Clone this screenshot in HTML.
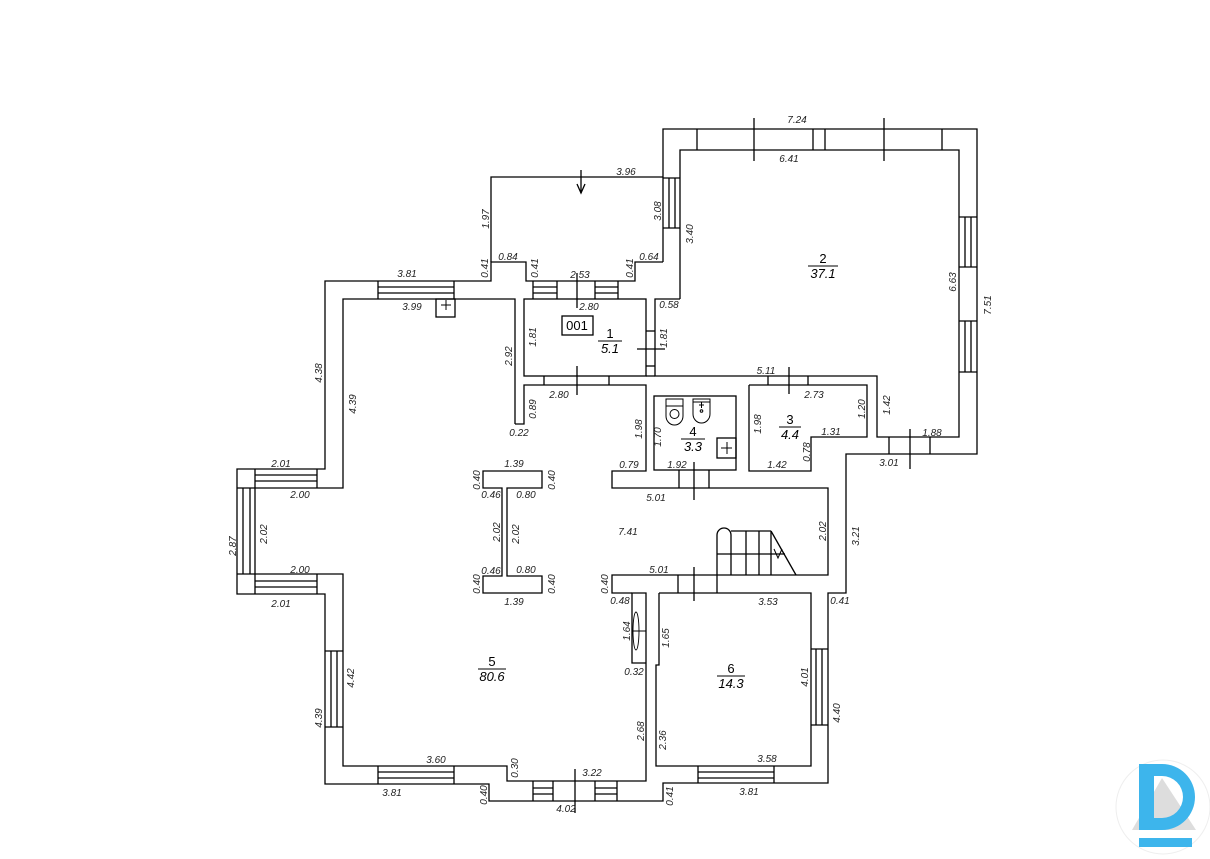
<!DOCTYPE html>
<html><head><meta charset="utf-8"><style>
html,body{margin:0;padding:0;background:#fff;}
svg{display:block}
text{font-family:"Liberation Sans",sans-serif;font-style:italic;font-size:10px;fill:#222;}
.r{font-style:normal;font-size:13px;fill:#000}
.ra{font-size:13px;fill:#000}
</style></head><body>
<svg width="1210" height="859" viewBox="0 0 1210 859" xmlns="http://www.w3.org/2000/svg">
<g fill="none" stroke="#000" stroke-width="1.3">
<polyline points="663,262 663,129 977,129 977,454 846,454 846,593 828,593 828,783 663,783 663,801 489,801 489,784 325,784 325,594 237,594 237,469 325,469 325,281 491,281 491,262 526,262 526,281 635,281 635,262 663,262"/>
<polyline points="491,262 491,177 663,177"/>
<line x1="663" y1="178" x2="680" y2="178"/>
<polyline points="680,299 680,150 959,150 959,437 877,437 877,376 655,376 655,299 680,299"/>
<rect x="524" y="299" width="122" height="77"/>
<polyline points="515,424 515,299 343,299 343,488 255,488 255,574 343,574 343,766 507,766 507,781 646,781 646,593 632,593 632,663 646,663"/>
<polyline points="632,593 612,593 612,575 828,575 828,488 612,488 612,471 646,471 646,385 524,385 524,424 515,424"/>
<polyline points="659,593 811,593 811,766 656,766 656,665 659,665 659,593"/>
<rect x="654" y="396" width="82" height="74"/>
<polyline points="749,385 867,385 867,437 811,437 811,471 749,471 749,385"/>
<polygon points="483,471 542,471 542,488 507,488 507,576 542,576 542,593 483,593 483,576 502,576 502,488 483,488"/>
<line x1="697" y1="129" x2="697" y2="150"/><line x1="942" y1="129" x2="942" y2="150"/>
<line x1="813" y1="129" x2="813" y2="150"/><line x1="825" y1="129" x2="825" y2="150"/>
<line x1="754" y1="118" x2="754" y2="161"/><line x1="884" y1="118" x2="884" y2="161"/>
<line x1="959" y1="217" x2="977" y2="217"/><line x1="959" y1="267" x2="977" y2="267"/>
<line x1="965" y1="217" x2="965" y2="267"/><line x1="971" y1="217" x2="971" y2="267"/>
<line x1="959" y1="321" x2="977" y2="321"/><line x1="959" y1="372" x2="977" y2="372"/>
<line x1="965" y1="321" x2="965" y2="372"/><line x1="971" y1="321" x2="971" y2="372"/>
<line x1="663" y1="228" x2="680" y2="228"/><line x1="669" y1="178" x2="669" y2="228"/><line x1="675" y1="178" x2="675" y2="228"/>
<line x1="581" y1="170" x2="581" y2="193"/><polyline points="577,184 581,193 585,184"/>
<line x1="378" y1="281" x2="378" y2="299"/><line x1="454" y1="281" x2="454" y2="299"/>
<line x1="378" y1="287" x2="454" y2="287"/><line x1="378" y1="293" x2="454" y2="293"/>
<line x1="533" y1="281" x2="533" y2="299"/><line x1="557" y1="281" x2="557" y2="299"/>
<line x1="533" y1="287" x2="557" y2="287"/><line x1="533" y1="293" x2="557" y2="293"/>
<line x1="595" y1="281" x2="595" y2="299"/><line x1="618" y1="281" x2="618" y2="299"/>
<line x1="595" y1="287" x2="618" y2="287"/><line x1="595" y1="293" x2="618" y2="293"/>
<line x1="577" y1="273" x2="577" y2="308"/>
<line x1="544" y1="376" x2="544" y2="385"/><line x1="609" y1="376" x2="609" y2="385"/>
<line x1="577" y1="366" x2="577" y2="395"/>
<line x1="646" y1="331" x2="655" y2="331"/><line x1="646" y1="366" x2="655" y2="366"/>
<line x1="637" y1="349" x2="665" y2="349"/>
<line x1="646" y1="376" x2="655" y2="376"/>
<line x1="768" y1="376" x2="768" y2="385"/><line x1="808" y1="376" x2="808" y2="385"/>
<line x1="789" y1="367" x2="789" y2="394"/>
<line x1="889" y1="437" x2="889" y2="454"/><line x1="930" y1="437" x2="930" y2="454"/>
<line x1="910" y1="429" x2="910" y2="469"/>
<line x1="679" y1="470" x2="679" y2="488"/><line x1="709" y1="470" x2="709" y2="488"/>
<line x1="694" y1="462" x2="694" y2="500"/>
<line x1="237" y1="488" x2="255" y2="488"/><line x1="255" y1="469" x2="255" y2="488"/>
<line x1="237" y1="574" x2="255" y2="574"/><line x1="255" y1="574" x2="255" y2="594"/>
<line x1="243" y1="488" x2="243" y2="574"/><line x1="250" y1="488" x2="250" y2="574"/>
<line x1="317" y1="469" x2="317" y2="488"/><line x1="255" y1="475" x2="317" y2="475"/><line x1="255" y1="481" x2="317" y2="481"/>
<line x1="317" y1="574" x2="317" y2="594"/><line x1="255" y1="581" x2="317" y2="581"/><line x1="255" y1="587" x2="317" y2="587"/>
<line x1="325" y1="651" x2="343" y2="651"/><line x1="325" y1="727" x2="343" y2="727"/>
<line x1="331" y1="651" x2="331" y2="727"/><line x1="337" y1="651" x2="337" y2="727"/>
<line x1="378" y1="766" x2="378" y2="784"/><line x1="454" y1="766" x2="454" y2="784"/>
<line x1="378" y1="772" x2="454" y2="772"/><line x1="378" y1="778" x2="454" y2="778"/>
<line x1="533" y1="781" x2="533" y2="801"/><line x1="553" y1="781" x2="553" y2="801"/>
<line x1="533" y1="788" x2="553" y2="788"/><line x1="533" y1="794" x2="553" y2="794"/>
<line x1="595" y1="781" x2="595" y2="801"/><line x1="617" y1="781" x2="617" y2="801"/>
<line x1="595" y1="788" x2="617" y2="788"/><line x1="595" y1="794" x2="617" y2="794"/>
<line x1="575" y1="769" x2="575" y2="813"/>
<line x1="698" y1="766" x2="698" y2="783"/><line x1="774" y1="766" x2="774" y2="783"/>
<line x1="698" y1="772" x2="774" y2="772"/><line x1="698" y1="778" x2="774" y2="778"/>
<line x1="811" y1="649" x2="828" y2="649"/><line x1="811" y1="725" x2="828" y2="725"/>
<line x1="816" y1="649" x2="816" y2="725"/><line x1="822" y1="649" x2="822" y2="725"/>
<line x1="678" y1="575" x2="678" y2="593"/><line x1="717" y1="575" x2="717" y2="593"/>
<line x1="694" y1="567" x2="694" y2="601"/>
<path d="M717,575 L717,535 A7,7 0 0 1 731,535 L731,575"/>
<line x1="731" y1="531" x2="771" y2="531"/>
<line x1="746" y1="531" x2="746" y2="575"/><line x1="759" y1="531" x2="759" y2="575"/><line x1="771" y1="531" x2="771" y2="575"/>
<line x1="717" y1="554" x2="785" y2="554"/>
<line x1="771" y1="531" x2="796" y2="575"/>
<polyline points="774,549 778,558 782,549" stroke-width="1"/>
<ellipse cx="636" cy="631" rx="3" ry="19" stroke-width="0.9"/>
<line x1="632" y1="631" x2="646" y2="631" stroke-width="1"/>
<rect x="436" y="299" width="19" height="18"/>
<line x1="441" y1="305" x2="451" y2="305" stroke-width="1"/><line x1="446" y1="300" x2="446" y2="310" stroke-width="1"/>
<rect x="562" y="316" width="31" height="19"/>
<rect x="666" y="399" width="17" height="7" stroke-width="1"/>
<path d="M666,406 L666,416 A8.5,9 0 0 0 683,416 L683,406" stroke-width="1"/>
<circle cx="674.5" cy="414" r="4.5" stroke-width="1"/>
<rect x="693" y="399" width="17" height="3" stroke-width="1"/>
<path d="M693,402 L693,414 A8.5,9 0 0 0 710,414 L710,402" stroke-width="1"/>
<circle cx="701.5" cy="411" r="1.3" stroke-width="1"/>
<line x1="699" y1="405" x2="704" y2="405" stroke-width="1"/><line x1="701.5" y1="402" x2="701.5" y2="408" stroke-width="1"/>
<rect x="717" y="438" width="19" height="20"/>
<line x1="721" y1="448" x2="732" y2="448" stroke-width="1"/><line x1="727" y1="442" x2="727" y2="454" stroke-width="1"/>
<line x1="808" y1="266" x2="838" y2="266" stroke-width="1"/>
<line x1="598" y1="341" x2="622" y2="341" stroke-width="1"/>
<line x1="681" y1="439" x2="705" y2="439" stroke-width="1"/>
<line x1="779" y1="427" x2="801" y2="427" stroke-width="1"/>
<line x1="478" y1="669" x2="506" y2="669" stroke-width="1"/>
<line x1="717" y1="676" x2="745" y2="676" stroke-width="1"/>
</g>
<g text-anchor="middle">
<text class="r" x="823" y="263">2</text><text class="ra" x="823" y="278">37.1</text>
<text class="r" x="610" y="338">1</text><text class="ra" x="610" y="353">5.1</text>
<text class="r" x="577" y="330" style="font-style:normal;font-size:13px">001</text>
<text class="r" x="693" y="436">4</text><text class="ra" x="693" y="451">3.3</text>
<text class="r" x="790" y="424">3</text><text class="ra" x="790" y="439">4.4</text>
<text class="r" x="492" y="666">5</text><text class="ra" x="492" y="681">80.6</text>
<text class="r" x="731" y="673">6</text><text class="ra" x="731" y="688">14.3</text>
</g>
<g text-anchor="middle">
<text x="797" y="123">7.24</text><text x="789" y="162">6.41</text><text x="626" y="175">3.96</text>
<text x="508" y="260">0.84</text><text x="580" y="278">2.53</text><text x="649" y="260">0.64</text>
<text x="407" y="277">3.81</text><text x="412" y="310">3.99</text><text x="589" y="310">2.80</text>
<text x="669" y="308">0.58</text><text x="559" y="398">2.80</text><text x="519" y="436">0.22</text>
<text x="766" y="374">5.11</text><text x="814" y="398">2.73</text><text x="831" y="435">1.31</text>
<text x="777" y="468">1.42</text><text x="677" y="468">1.92</text><text x="629" y="468">0.79</text>
<text x="932" y="436">1.88</text><text x="889" y="466">3.01</text><text x="281" y="467">2.01</text>
<text x="300" y="498">2.00</text><text x="514" y="467">1.39</text><text x="491" y="498">0.46</text>
<text x="526" y="498">0.80</text><text x="656" y="501">5.01</text><text x="628" y="535">7.41</text>
<text x="300" y="573">2.00</text><text x="281" y="607">2.01</text><text x="491" y="574">0.46</text>
<text x="526" y="573">0.80</text><text x="514" y="605">1.39</text><text x="659" y="573">5.01</text>
<text x="620" y="604">0.48</text><text x="768" y="605">3.53</text><text x="840" y="604">0.41</text>
<text x="634" y="675">0.32</text><text x="436" y="763">3.60</text><text x="592" y="776">3.22</text>
<text x="767" y="762">3.58</text><text x="392" y="796">3.81</text><text x="749" y="795">3.81</text>
<text x="566" y="812">4.02</text>
</g>
<g text-anchor="middle">
<text transform="translate(489,219) rotate(-90)">1.97</text>
<text transform="translate(488,268) rotate(-90)">0.41</text>
<text transform="translate(538,268) rotate(-90)">0.41</text>
<text transform="translate(633,268) rotate(-90)">0.41</text>
<text transform="translate(661,211) rotate(-90)">3.08</text>
<text transform="translate(693,234) rotate(-90)">3.40</text>
<text transform="translate(956,282) rotate(-90)">6.63</text>
<text transform="translate(991,305) rotate(-90)">7.51</text>
<text transform="translate(322,373) rotate(-90)">4.38</text>
<text transform="translate(356,404) rotate(-90)">4.39</text>
<text transform="translate(512,356) rotate(-90)">2.92</text>
<text transform="translate(536,337) rotate(-90)">1.81</text>
<text transform="translate(667,338) rotate(-90)">1.81</text>
<text transform="translate(536,409) rotate(-90)">0.89</text>
<text transform="translate(642,429) rotate(-90)">1.98</text>
<text transform="translate(661,437) rotate(-90)">1.70</text>
<text transform="translate(761,424) rotate(-90)">1.98</text>
<text transform="translate(865,409) rotate(-90)">1.20</text>
<text transform="translate(810,452) rotate(-90)">0.78</text>
<text transform="translate(890,405) rotate(-90)">1.42</text>
<text transform="translate(236,546) rotate(-90)">2.87</text>
<text transform="translate(267,534) rotate(-90)">2.02</text>
<text transform="translate(480,480) rotate(-90)">0.40</text>
<text transform="translate(555,480) rotate(-90)">0.40</text>
<text transform="translate(500,532) rotate(-90)">2.02</text>
<text transform="translate(519,534) rotate(-90)">2.02</text>
<text transform="translate(480,584) rotate(-90)">0.40</text>
<text transform="translate(555,584) rotate(-90)">0.40</text>
<text transform="translate(826,531) rotate(-90)">2.02</text>
<text transform="translate(859,536) rotate(-90)">3.21</text>
<text transform="translate(608,584) rotate(-90)">0.40</text>
<text transform="translate(630,631) rotate(-90)">1.64</text>
<text transform="translate(669,638) rotate(-90)">1.65</text>
<text transform="translate(354,678) rotate(-90)">4.42</text>
<text transform="translate(322,718) rotate(-90)">4.39</text>
<text transform="translate(808,677) rotate(-90)">4.01</text>
<text transform="translate(840,713) rotate(-90)">4.40</text>
<text transform="translate(644,731) rotate(-90)">2.68</text>
<text transform="translate(666,740) rotate(-90)">2.36</text>
<text transform="translate(518,768) rotate(-90)">0.30</text>
<text transform="translate(487,795) rotate(-90)">0.40</text>
<text transform="translate(673,796) rotate(-90)">0.41</text>
</g>
<circle cx="1163" cy="807" r="47" fill="none" stroke="#eee" stroke-width="1"/>
<polygon points="1162,778 1132,830 1196,830" fill="#ddd"/>
<path d="M1139,764 L1162,764 A33,33 0 0 1 1162,830 L1139,830 Z M1154,776 L1154,818 L1162,818 A21,21 0 0 0 1162,776 Z" fill="#3db5ec" fill-rule="evenodd"/>
<rect x="1139" y="838" width="53" height="9" fill="#3db5ec"/>
</svg>
</body></html>
